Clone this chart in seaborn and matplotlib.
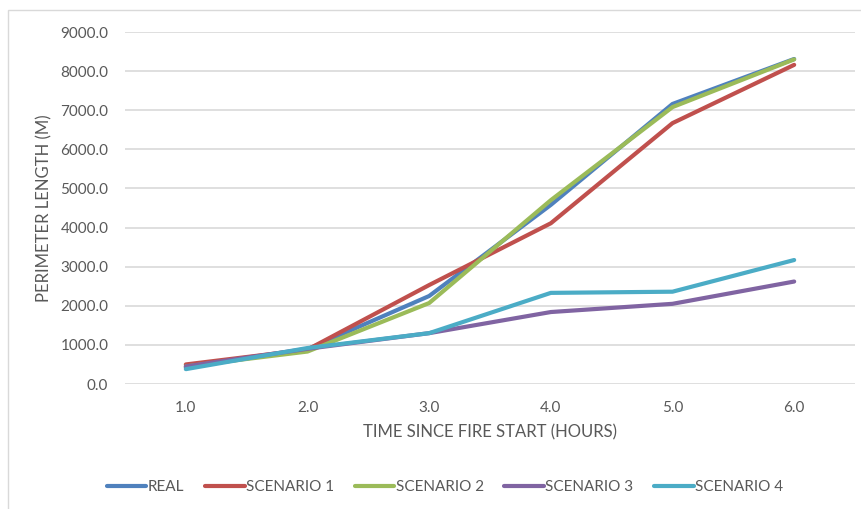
import matplotlib
matplotlib.use("Agg")
import matplotlib.pyplot as plt
from matplotlib.patches import Rectangle
import seaborn as sns
import pandas as pd

# Fire perimeter growth: observed vs. simulated scenarios
hours = [1.0, 2.0, 3.0, 4.0, 5.0, 6.0]
hour_labels = ["1.0", "2.0", "3.0", "4.0", "5.0", "6.0"]
real = [420, 890, 2250, 4580, 7160, 8310]
scenario_1 = [500, 880, 2530, 4110, 6670, 8160]
scenario_2 = [450, 830, 2070, 4700, 7080, 8300]
scenario_3 = [450, 900, 1300, 1840, 2050, 2620]
scenario_4 = [380, 920, 1300, 2330, 2360, 3170]
series_names = ["REAL", "SCENARIO 1", "SCENARIO 2", "SCENARIO 3", "SCENARIO 4"]
series_values = [real, scenario_1, scenario_2, scenario_3, scenario_4]
colors = ["#4F81BD", "#C0504D", "#9BBB59", "#8064A2", "#4BACC6"]

rows = []
for name, vals in zip(series_names, series_values):
    for h, v in zip(hours, vals):
        rows.append({"hour": h, "length": v, "series": name})
df = pd.DataFrame(rows)

sns.set_theme(style="white")
plt.rcParams["font.family"] = ["Lato", "DejaVu Sans"]
text_color = "#595959"

fig = plt.figure(figsize=(8.62, 5.09), dpi=100)
ax = fig.add_axes([125 / 862, 1 - 384 / 509, 730 / 862, 352 / 509])

sns.lineplot(data=df, x="hour", y="length", hue="series",
             hue_order=series_names, palette=colors, linewidth=3.0,
             ax=ax, legend=True, sort=False)

ax.set_xlim(0.5, 6.5)
ax.set_ylim(0, 9000)
ax.set_xticks(hours)
ax.set_xticklabels(hour_labels)
yt = list(range(0, 9001, 1000))
ax.set_yticks(yt)
ax.set_yticklabels([f"{v:.1f}" for v in yt])
ax.tick_params(axis="both", length=0, labelsize=11, colors=text_color)
ax.tick_params(axis="y", pad=12)
ax.tick_params(axis="x", pad=12)
ax.yaxis.grid(True, color="#D9D9D9", linewidth=1.2)
ax.xaxis.grid(False)
for s in ax.spines.values():
    s.set_visible(False)
ax.set_xlabel("TIME SINCE FIRE START (HOURS)", fontsize=12, color=text_color, labelpad=7)
ax.set_ylabel("PERIMETER LENGTH (M)", fontsize=12, color=text_color, labelpad=6)

handles, labels = ax.get_legend_handles_labels()
ax.get_legend().remove()
fig.legend(handles, labels, loc="center", bbox_to_anchor=(445 / 862, 1 - 487 / 509),
           ncol=5, frameon=False, fontsize=11, labelcolor=text_color,
           handlelength=2.6, handletextpad=0.1, columnspacing=1.33)

fig.patches.append(Rectangle((8 / 862, -0.05), 1.0, 1.05 - 10 / 509,
                             transform=fig.transFigure, fill=False,
                             edgecolor="#D9D9D9", linewidth=1.0))

fig.savefig("out.png", dpi=100)
